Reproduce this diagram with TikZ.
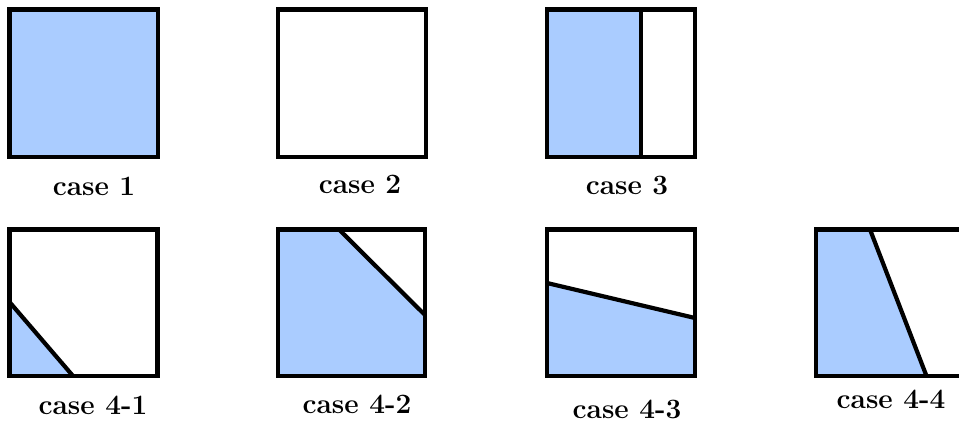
\documentclass[tikz,border=0pt]{standalone}
\usepackage{tikz}

\definecolor{lightfill}{RGB}{170,204,255}
\tikzset{
  panel/.style={draw=black, line width=4.2pt},
  shade/.style={fill=lightfill},
  cut/.style={draw=black, line width=4.2pt},
  caption/.style={anchor=base, inner sep=0pt, font=\fontsize{28}{33}\selectfont\bfseries}
}

\begin{document}
\begin{tikzpicture}[x=1pt,y=-1pt]
            \useasboundingbox (0,0) rectangle (959,423);

            % Top row
            \fill[shade] (9.5,9.5) rectangle (158,157);
            \draw[panel] (9.5,9.5) rectangle (158,157);

            \draw[panel] (278,9.5) rectangle (426,157);

            \fill[shade] (547,9.5) rectangle (641,157);
            \draw[cut] (641,9.5) -- (641,157);
            \draw[panel] (547,9.5) rectangle (695,157);

            % Bottom row
            \fill[shade] (9.5,302) -- (73,376) -- (9.5,376) -- cycle;
            \draw[cut] (9.5,302) -- (73,376);
            \draw[panel] (9.5,229.5) rectangle (157.5,376);

            \fill[shade] (278,229.5) -- (339,229.5) -- (425,315) -- (425,376) -- (278,376) -- cycle;
            \draw[cut] (339,229.5) -- (425,315);
            \draw[panel] (278,229.5) rectangle (425,376);

            \fill[shade] (547,283) -- (695,318) -- (695,376) -- (547,376) -- cycle;
            \draw[cut] (547,283) -- (695,318);
            \draw[panel] (547,229.5) rectangle (695,376);

            \fill[shade] (816,229.5) -- (870,229.5) -- (926.5,376) -- (816,376) -- cycle;
            \draw[cut] (870,229.5) -- (926.5,376);
            \draw[panel] (816,229.5) rectangle (965,376);

            % Captions
            \node[caption] (c1) at (94,195) {case 1};
            \node[caption] (c2) at (360,193) {case 2};
            \node[caption] (c3) at (627,194) {case 3};
            \node[caption] (c41) at (93,414) {case 4-1};
            \node[caption] (c42) at (357,413) {case 4-2};
            \node[caption] (c43) at (627,418) {case 4-3};
            \node[caption] (c44) at (891,408) {case 4-4};
        \end{tikzpicture}
\end{document}
